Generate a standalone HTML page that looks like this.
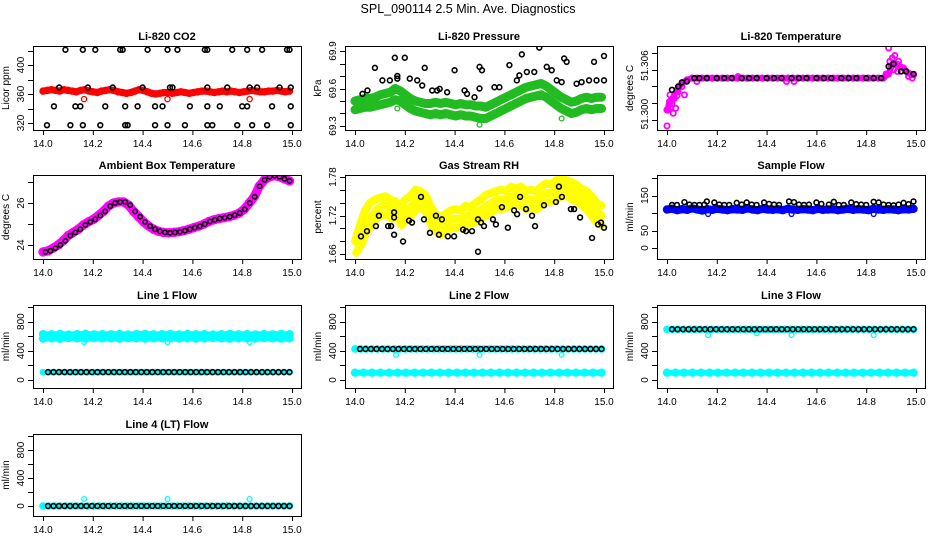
<!DOCTYPE html>
<html><head><meta charset="utf-8"><style>
html,body{margin:0;padding:0;background:#fff;}
svg{display:block;font-family:"Liberation Sans",sans-serif;}
</style></head><body>
<svg id="chart" width="936" height="540" viewBox="0 0 936 540" xmlns="http://www.w3.org/2000/svg">
<rect x="0" y="0" width="936" height="540" fill="#fff"/>
<text x="468" y="13" font-size="12.5" text-anchor="middle">SPL_090114  2.5 Min. Ave. Diagnostics</text>
</svg>
<script>
// ---------- DATA ----------
const xTicks = [14.0,14.2,14.4,14.6,14.8,15.0];
const xTickLabels = ["14.0","14.2","14.4","14.6","14.8","15.0"];

// CO2
const co2Red = [364,365,366,365,364,366,365,364,363,365,366,364,363,362,364,365,366,365,363,362,361,362,364,366,365,363,361,360,361,362,362,361,362,363,362,361,362,363,364,364,363,362,363,364,363,364,363,362,363,364,365,364,363,363,364,364,365,364,363,364];
const co2RedOutT = [14.165,14.50,14.83];
const co2RedOutV = [353,353,353];
const co2BlkT = [14.09,14.16,14.21,14.31,14.32,14.42,14.50,14.54,14.65,14.66,14.76,14.82,14.88,14.98,14.99,
 14.065,14.18,14.28,14.40,14.51,14.52,14.66,14.74,14.83,14.86,14.95,14.995,
 14.044,14.13,14.15,14.25,14.33,14.38,14.45,14.48,14.59,14.66,14.71,14.80,14.82,14.92,14.995,
 14.016,14.11,14.16,14.23,14.33,14.34,14.45,14.50,14.57,14.66,14.68,14.78,14.84,14.90,14.995];
const co2BlkV = [421,421,421,421,421,421,421,421,421,421,421,421,421,421,421,
 369,369,369,369,369,369,369,369,369,369,369,369,
 343,343,343,343,343,343,343,343,343,343,343,343,343,343,343,
 317,317,317,317,317,317,317,317,317,317,317,317,317,317,317];

// Pressure
const presHi = [69.50,69.51,69.52,69.52,69.53,69.55,69.56,69.57,69.60,69.58,69.55,69.52,69.50,69.49,69.48,69.48,69.49,69.48,69.49,69.48,69.47,69.48,69.47,69.47,69.46,69.46,69.45,69.47,69.49,69.51,69.53,69.55,69.57,69.59,69.61,69.62,69.63,69.64,69.62,69.59,69.56,69.53,69.51,69.49,69.50,69.52,69.53,69.52,69.53,69.53];
const presLo = [69.43,69.44,69.45,69.45,69.46,69.47,69.48,69.49,69.51,69.50,69.47,69.44,69.42,69.41,69.40,69.39,69.40,69.39,69.40,69.39,69.38,69.39,69.38,69.38,69.37,69.36,69.36,69.38,69.40,69.42,69.44,69.46,69.48,69.50,69.52,69.53,69.54,69.55,69.53,69.50,69.47,69.44,69.42,69.40,69.41,69.43,69.44,69.43,69.44,69.44];
const presOutT = [14.17,14.50,14.83];
const presOutV = [69.44,69.31,69.36];
const presBlkT = [14.03,14.05,14.08,14.16,14.20,14.11,14.14,14.17,14.17,14.22,14.25,14.27,14.28,14.31,14.33,14.34,14.37,14.40,14.44,14.45,14.48,14.50,14.50,14.51,14.56,14.58,14.62,14.65,14.66,14.67,14.69,14.72,14.74,14.77,14.79,14.81,14.83,14.84,14.85,14.89,14.91,14.94,14.96,14.97,15.0,15.0];
const presBlkV = [69.557,69.584,69.765,69.846,69.846,69.665,69.665,69.679,69.70,69.679,69.665,69.624,69.765,69.584,69.584,69.597,69.57,69.746,69.584,69.557,69.53,69.773,69.60,69.746,69.61,69.61,69.787,69.665,69.705,69.873,69.732,69.732,69.927,69.773,69.746,69.665,69.651,69.84,69.813,69.638,69.651,69.665,69.813,69.665,69.86,69.665];

// Li-820 temperature
const tempMag = [51.3012,51.3025,51.3036,51.3044,51.3048,51.3050,51.3050,51.3050,51.3050,51.3050,51.3050,51.3050,51.3050,51.3050,51.3050,51.3050,51.3050,51.3050,51.3050,51.3050,51.3050,51.3050,51.3050,51.3050,51.3050,51.3050,51.3050,51.3050,51.3050,51.3050,51.3050,51.3050,51.3050,51.3050,51.3050,51.3050,51.3050,51.3050,51.3050,51.3050,51.3050,51.3050,51.3050,51.3050,51.3055,51.3068,51.3066,51.3062,51.3056,51.3054];
const tempMagXT = [14.000,14.005,14.010,14.015,14.020,14.025,14.030,14.035,14.040,14.012,14.008,14.045,14.06,14.07,14.88,14.89,14.895,14.90,14.905,14.91,14.925,14.93,14.95,14.97,14.985,14.915,14.285,14.48,14.51,14.12];
const tempMagXV = [51.2993,51.3012,51.3022,51.3015,51.3020,51.3008,51.3026,51.3014,51.3029,51.3030,51.3018,51.3034,51.3040,51.3030,51.3055,51.3086,51.3070,51.3064,51.3074,51.3060,51.3058,51.3070,51.3062,51.3052,51.3050,51.3077,51.3052,51.3046,51.3046,51.3046];
const tempBlkT = [14.02,14.045,14.06,14.08,14.11,14.13,14.16,14.20,14.23,14.26,14.30,14.33,14.36,14.40,14.43,14.46,14.50,14.53,14.56,14.60,14.63,14.66,14.70,14.73,14.76,14.80,14.83,14.86,14.89,14.91,14.94,14.96,14.99];
const tempBlkV = [51.3036,51.3040,51.3045,51.3046,51.3050,51.3050,51.3050,51.3050,51.3050,51.3050,51.3050,51.3050,51.3050,51.3050,51.3050,51.3050,51.3050,51.3050,51.3050,51.3050,51.3050,51.3050,51.3050,51.3050,51.3050,51.3050,51.3050,51.3050,51.3064,51.3067,51.3058,51.3058,51.3055];

// Ambient box temperature
const ambV = [23.67,23.72,23.85,24.0,24.2,24.45,24.6,24.75,24.95,25.1,25.22,25.4,25.6,25.85,26.0,26.05,26.05,25.9,25.6,25.35,25.1,24.9,24.75,24.65,24.6,24.58,24.6,24.63,24.68,24.75,24.83,24.9,25.0,25.12,25.2,25.26,25.3,25.35,25.42,25.52,25.7,26.0,26.3,26.8,27.1,27.25,27.3,27.25,27.15,27.05];

// Gas stream RH
const rhMid = [1.665,1.69,1.71,1.72,1.73,1.735,1.735,1.73,1.73,1.72,1.73,1.735,1.745,1.745,1.74,1.72,1.71,1.705,1.71,1.715,1.715,1.715,1.72,1.72,1.725,1.73,1.735,1.74,1.745,1.745,1.745,1.75,1.75,1.75,1.745,1.745,1.745,1.75,1.755,1.755,1.76,1.765,1.765,1.76,1.755,1.75,1.745,1.735,1.725,1.72];
const rhHi = [1.68,1.705,1.728,1.74,1.745,1.748,1.75,1.745,1.742,1.735,1.745,1.75,1.76,1.758,1.752,1.735,1.722,1.718,1.722,1.728,1.73,1.728,1.735,1.733,1.74,1.745,1.752,1.755,1.758,1.76,1.758,1.765,1.762,1.765,1.758,1.76,1.758,1.765,1.77,1.768,1.775,1.778,1.775,1.772,1.768,1.762,1.758,1.75,1.74,1.735];
const rhLo = [1.662,1.675,1.695,1.705,1.715,1.72,1.722,1.715,1.718,1.705,1.715,1.72,1.73,1.732,1.725,1.705,1.695,1.69,1.695,1.702,1.70,1.703,1.705,1.708,1.71,1.716,1.72,1.725,1.732,1.73,1.732,1.736,1.738,1.735,1.73,1.732,1.73,1.736,1.74,1.742,1.745,1.75,1.752,1.745,1.742,1.736,1.73,1.72,1.71,1.705];
const rhBlkT = [14.024,14.048,14.084,14.096,14.133,14.145,14.157,14.157,14.157,14.193,14.217,14.229,14.265,14.277,14.301,14.325,14.337,14.349,14.373,14.398,14.434,14.446,14.47,14.494,14.494,14.506,14.518,14.554,14.566,14.59,14.614,14.639,14.651,14.663,14.687,14.711,14.723,14.759,14.807,14.819,14.831,14.867,14.88,14.904,14.952,14.976,14.988,15.0];
const rhBlkV = [1.6875,1.6956,1.7035,1.7197,1.7035,1.7035,1.725,1.717,1.690,1.6795,1.712,1.709,1.749,1.714,1.693,1.7197,1.690,1.714,1.6875,1.6875,1.698,1.6956,1.6956,1.714,1.6635,1.709,1.7035,1.714,1.706,1.733,1.701,1.728,1.722,1.749,1.730,1.7197,1.7035,1.736,1.741,1.765,1.749,1.730,1.730,1.717,1.685,1.706,1.709,1.701];

// Sample flow
const sfBlue = [110,112,108,111,109,113,110,107,111,109,112,110,108,111,110,109,113,110,108,112,110,109,111,108,112,110,109,111,110,108,112,109,110,111,108,110,112,109,111,110,108,112,110,109,111,110,108,111,110,112];
const sfBlueOutT = [14.165,14.50,14.83];
const sfBlueOutV = [97,97,97];
const sfBlkT = [14.02,14.04,14.07,14.09,14.11,14.13,14.15,14.16,14.19,14.21,14.23,14.25,14.28,14.30,14.32,14.34,14.36,14.39,14.41,14.43,14.45,14.49,14.51,14.53,14.55,14.57,14.60,14.62,14.65,14.67,14.69,14.71,14.74,14.76,14.78,14.80,14.83,14.85,14.87,14.89,14.91,14.93,14.95,14.97,14.99];
const sfBlkV = [123,123,131,124,123,123,124,133,130,124,123,123,129,124,130,124,123,130,126,124,123,133,131,124,123,124,130,126,124,132,123,123,130,125,124,123,132,130,124,123,122,124,129,125,133];

// Line flows
const l1CyanHi = [628,625,630,622,627,632,624,628,626,630,623,628,631,625,627,629,624,630,626,628,622,627,630,625,628,624,629,626,630,627];
const l1CyanLo = [568,572,565,575,570,566,573,569,571,567,574,570,566,572,569,571,568,573,567,570,575,569,566,572,570,568,573,571,567,570];
const l1Blk = [108,108,108,108,108,108,108,108,108,108,108,108,108,108,108,108,108,108,108,108,108,108,108,108,108,108,108,108,108,108,108,108,108,108,108,108,108,108,108,108,108,108,108,108,108];
const l1OutV = [520,520,520];
const l2CyanLo = [100,100,100,100,100,100,100,100,100,100,100,100,100,100,100,100,100,100,100,100,100,100,100,100,100,100,100,100,100,100];
const l2Blk = [425,425,425,425,425,425,425,425,425,425,425,425,425,425,425,425,425,425,425,425,425,425,425,425,425,425,425,425,425,425,425,425,425,425,425,425,425,425,425,425,425,425,425,425,425];
const l2OutV = [345,345,345];
const l3Blk = [695,695,695,695,695,695,695,695,695,695,695,695,695,695,695,695,695,695,695,695,695,695,695,695,695,695,695,695,695,695,695,695,695,695,695,695,695,695,695,695,695,695,695,695,695];
const l3OutT = [14.165,14.36,14.50,14.83];
const l3OutV = [615,640,615,615];
const l4Blk = [0,0,0,0,0,0,0,0,0,0,0,0,0,0,0,0,0,0,0,0,0,0,0,0,0,0,0,0,0,0,0,0,0,0,0,0,0,0,0,0,0,0,0,0,0];
const flowOutT = [14.165,14.50,14.83];
const l4OutV = [100,100,100];

// ---------- DRAWING ----------
const NS = "http://www.w3.org/2000/svg";
const svg = document.getElementById("chart");
function mk(tag, attrs, parent){
  const e = document.createElementNS(NS, tag);
  for (const k in attrs) e.setAttribute(k, attrs[k]);
  (parent||svg).appendChild(e);
  return e;
}
function idxT(i, n, start, end){ return start + i*(end-start)/(n-1); }

function makePanel(cfg){
  const g = mk("g", {});
  
  
  const x0 = cfg.x0, top = cfg.top, bot = cfg.bot, x1 = x0+268;
  const X = t => x0 + 10 + (t-14)*249;
  const Y = v => cfg.y1 + (v-cfg.v1)*(cfg.y2-cfg.y1)/(cfg.v2-cfg.v1);
  const box = mk("rect", {x:x0+0.5, y:top+0.5, width:268, height:bot-top, fill:"none", stroke:"#000", "stroke-width":1}, g);
  
  
  const title = mk("text", {x:(x0+x1)/2, y:top-6, "font-size":11, "font-weight":"bold", "text-anchor":"middle"}, g);
  title.textContent = cfg.title;
  
  
  const xa = mk("g", {}, g);
  
  
  mk("line", {x1:X(14)+0.5, x2:X(15)+0.5, y1:bot+0.5, y2:bot+0.5, stroke:"#000"}, xa);
  xTicks.forEach((t,i)=>{
    mk("line", {x1:X(t)+0.5, x2:X(t)+0.5, y1:bot, y2:bot+5, stroke:"#000"}, xa);
    const tl = mk("text", {x:X(t), y:bot+17, "font-size":10, "text-anchor":"middle"}, xa);
    tl.textContent = xTickLabels[i];
    
    
  });
  const ya = mk("g", {}, g);
  
  
  cfg.yTicks.forEach(v=>{
    const y = Math.round(Y(v))+0.5;
    mk("line", {x1:x0-5, x2:x0, y1:y, y2:y, stroke:"#000"}, ya);
  });
  cfg.yLabels.forEach((lab,i)=>{
    const y = Y(cfg.yLabelVals[i]);
    const tl = mk("text", {x:0, y:0, "font-size":10, "text-anchor":"middle", transform:`translate(${x0-9},${y}) rotate(-90)`}, ya);
    tl.textContent = lab;
    
    
  });
  const yt = mk("text", {x:0, y:0, "font-size":10, "text-anchor":"middle", transform:`translate(${x0-24},${(top+bot)/2}) rotate(-90)`}, g);
  yt.textContent = cfg.yTitle;
  
  
  const clip = "clip"+cfg.name;
  const cp = mk("clipPath", {id:clip}, g);
  mk("rect", {x:x0+1, y:top+1, width:267, height:bot-top-1}, cp);
  const pts = mk("g", {"clip-path":`url(#${clip})`}, g);
  return {X, Y, pts};
}
function pointsT(p, ts, vs, color, r, sw, name, band){
  const gg = mk("g", {fill:"none", stroke:color, "stroke-width":sw}, p.pts);
  
  
  if (band){
    const d = vs.map((v,i)=>p.X(ts[i]).toFixed(1)+","+p.Y(v).toFixed(1)).join(" ");
    const pl = mk("polyline", {points:d, fill:"none", stroke:color, "stroke-width":band, "stroke-linejoin":"round", "stroke-linecap":"round"}, gg);
    
    
  }
  vs.forEach((v,i)=>{
    const c = mk("circle", {cx:p.X(ts[i]), cy:p.Y(v), r:r}, gg);
    
    
  });
}
function pointsIdx(p, vs, start, end, color, r, sw, name, band){
  const ts = vs.map((v,i)=>idxT(i, vs.length, start, end));
  pointsT(p, ts, vs, color, r, sw, name, band);
}

const COLS = [33,345,657];
const ROWS = [[46,130],[175,259],[305,388],[434,516]];
const flowTicks = [0,200,400,600,800,1000];

// Row 1
let p = makePanel({name:"co2-panel", title:"Li-820 CO2", x0:COLS[0], top:ROWS[0][0], bot:ROWS[0][1], v1:320, y1:123, v2:400, y2:65,
  yTicks:[320,340,360,380,400,420], yLabels:["320","360","400"], yLabelVals:[320,360,400], yTitle:"Licor ppm"});
pointsIdx(p, co2Red, 14.0, 14.99, "#ff0000", 2.6, 2.2, "co2-red-series", 7);
pointsT(p, co2RedOutT, co2RedOutV, "#ff0000", 2.6, 1.3, "co2-red-outliers");
pointsT(p, co2BlkT, co2BlkV, "#000", 2.4, 1.6, "co2-black-series");

p = makePanel({name:"pressure-panel", title:"Li-820 Pressure", x0:COLS[1], top:ROWS[0][0], bot:ROWS[0][1], v1:69.3, y1:126, v2:69.9, y2:51,
  yTicks:[69.3,69.4,69.5,69.6,69.7,69.8,69.9], yLabels:["69.3","69.6","69.9"], yLabelVals:[69.3,69.6,69.9], yTitle:"kPa"});
pointsIdx(p, presHi, 14.0, 14.99, "#22bb22", 3.2, 2.2, "pressure-green-upper", 9);
pointsIdx(p, presLo, 14.0, 14.99, "#22bb22", 3.2, 2.2, "pressure-green-lower", 9);
pointsT(p, presOutT, presOutV, "#22bb22", 2.4, 1.3, "pressure-green-outliers");
pointsT(p, presBlkT, presBlkV, "#000", 2.4, 1.6, "pressure-black-series");

p = makePanel({name:"li820-temp-panel", title:"Li-820 Temperature", x0:COLS[2], top:ROWS[0][0], bot:ROWS[0][1], v1:51.300, y1:120, v2:51.308, y2:53,
  yTicks:[51.300,51.302,51.304,51.306,51.308], yLabels:["51.300","51.306"], yLabelVals:[51.3007,51.3065], yTitle:"degrees C"});
pointsIdx(p, tempMag, 14.0, 14.99, "#ff00ff", 2.6, 2.0, "temp-magenta-series", 6);
pointsT(p, tempMagXT, tempMagXV, "#ff00ff", 2.6, 1.8, "temp-magenta-scatter");
pointsT(p, tempBlkT, tempBlkV, "#000", 2.4, 1.7, "temp-black-series");

// Row 2
p = makePanel({name:"ambient-temp-panel", title:"Ambient Box Temperature", x0:COLS[0], top:ROWS[1][0], bot:ROWS[1][1], v1:24, y1:245, v2:26, y2:203,
  yTicks:[24,25,26,27], yLabels:["24","26"], yLabelVals:[24,26], yTitle:"degrees C"});
pointsIdx(p, ambV, 14.0, 14.99, "#ff00ff", 3.4, 2.6, "ambient-magenta-series", 9);
pointsIdx(p, ambV, 14.01, 14.99, "#000", 2.2, 1.5, "ambient-black-series");

p = makePanel({name:"rh-panel", title:"Gas Stream RH", x0:COLS[1], top:ROWS[1][0], bot:ROWS[1][1], v1:1.66, y1:254, v2:1.78, y2:177,
  yTicks:[1.66,1.68,1.70,1.72,1.74,1.76,1.78], yLabels:["1.66","1.72","1.78"], yLabelVals:[1.66,1.72,1.78], yTitle:"percent"});
pointsIdx(p, rhHi, 14.0, 14.99, "#ffff00", 2.6, 1.6, "rh-yellow-upper", 8);
pointsIdx(p, rhMid, 14.01, 14.99, "#ffff00", 2.6, 1.6, "rh-yellow-mid", 8);
pointsIdx(p, rhLo, 14.005, 14.99, "#ffff00", 2.6, 1.6, "rh-yellow-lower", 8);
pointsT(p, rhBlkT, rhBlkV, "#000", 2.4, 1.6, "rh-black-series");

p = makePanel({name:"sample-flow-panel", title:"Sample Flow", x0:COLS[2], top:ROWS[1][0], bot:ROWS[1][1], v1:0, y1:248, v2:200, y2:178,
  yTicks:[0,50,100,150,200], yLabels:["0","50","150"], yLabelVals:[0,50,150], yTitle:"ml/min"});
pointsIdx(p, sfBlue, 14.0, 14.99, "#0000ff", 3.0, 2.4, "sample-flow-blue-series", 8);
pointsT(p, sfBlueOutT, sfBlueOutV, "#0000ff", 2.4, 1.3, "sample-flow-blue-outliers");
pointsT(p, sfBlkT, sfBlkV, "#000", 2.4, 1.6, "sample-flow-black-series");

// Row 3
p = makePanel({name:"line1-flow-panel", title:"Line 1 Flow", x0:COLS[0], top:ROWS[2][0], bot:ROWS[2][1], v1:0, y1:380, v2:1000, y2:307,
  yTicks:flowTicks, yLabels:["0","400","800"], yLabelVals:[0,400,800], yTitle:"ml/min"});
pointsIdx(p, l1CyanHi, 14.0, 14.99, "#00ffff", 3.0, 2.4, "line1-cyan-upper", 6);
pointsIdx(p, l1CyanLo, 14.0, 14.99, "#00ffff", 3.0, 2.4, "line1-cyan-lower", 6);
pointsT(p, flowOutT, l1OutV, "#00ffff", 2.4, 1.3, "line1-cyan-outliers");
pointsIdx(p, l1Blk, 14.0, 14.99, "#00ffff", 2.6, 1.6, "line1-cyan-low", 5);
pointsIdx(p, l1Blk, 14.02, 14.99, "#000", 2.4, 1.6, "line1-black-series");

p = makePanel({name:"line2-flow-panel", title:"Line 2 Flow", x0:COLS[1], top:ROWS[2][0], bot:ROWS[2][1], v1:0, y1:380, v2:1000, y2:307,
  yTicks:flowTicks, yLabels:["0","400","800"], yLabelVals:[0,400,800], yTitle:"ml/min"});
pointsIdx(p, l2CyanLo, 14.0, 14.99, "#00ffff", 3.0, 2.4, "line2-cyan-low", 6);
pointsIdx(p, l2Blk, 14.0, 14.99, "#00ffff", 2.8, 2.0, "line2-cyan-high", 5);
pointsT(p, flowOutT, l2OutV, "#00ffff", 2.4, 1.3, "line2-cyan-outliers");
pointsIdx(p, l2Blk, 14.02, 14.99, "#000", 2.4, 1.6, "line2-black-series");

p = makePanel({name:"line3-flow-panel", title:"Line 3 Flow", x0:COLS[2], top:ROWS[2][0], bot:ROWS[2][1], v1:0, y1:380, v2:1000, y2:307,
  yTicks:flowTicks, yLabels:["0","400","800"], yLabelVals:[0,400,800], yTitle:"ml/min"});
pointsIdx(p, l2CyanLo, 14.0, 14.99, "#00ffff", 3.0, 2.4, "line3-cyan-low", 6);
pointsIdx(p, l3Blk, 14.0, 14.99, "#00ffff", 2.8, 2.0, "line3-cyan-high", 5);
pointsT(p, l3OutT, l3OutV, "#00ffff", 2.4, 1.3, "line3-cyan-outliers");
pointsIdx(p, l3Blk, 14.02, 14.99, "#000", 2.4, 1.6, "line3-black-series");

// Row 4
p = makePanel({name:"line4-flow-panel", title:"Line 4 (LT) Flow", x0:COLS[0], top:ROWS[3][0], bot:ROWS[3][1], v1:0, y1:506, v2:1000, y2:436,
  yTicks:flowTicks, yLabels:["0","400","800"], yLabelVals:[0,400,800], yTitle:"ml/min"});
pointsIdx(p, l4Blk, 14.0, 14.99, "#00ffff", 2.8, 2.0, "line4-cyan-series", 5);
pointsT(p, flowOutT, l4OutV, "#00ffff", 2.4, 1.3, "line4-cyan-outliers");
pointsIdx(p, l4Blk, 14.02, 14.99, "#000", 2.4, 1.6, "line4-black-series");
</script>
</body></html>
